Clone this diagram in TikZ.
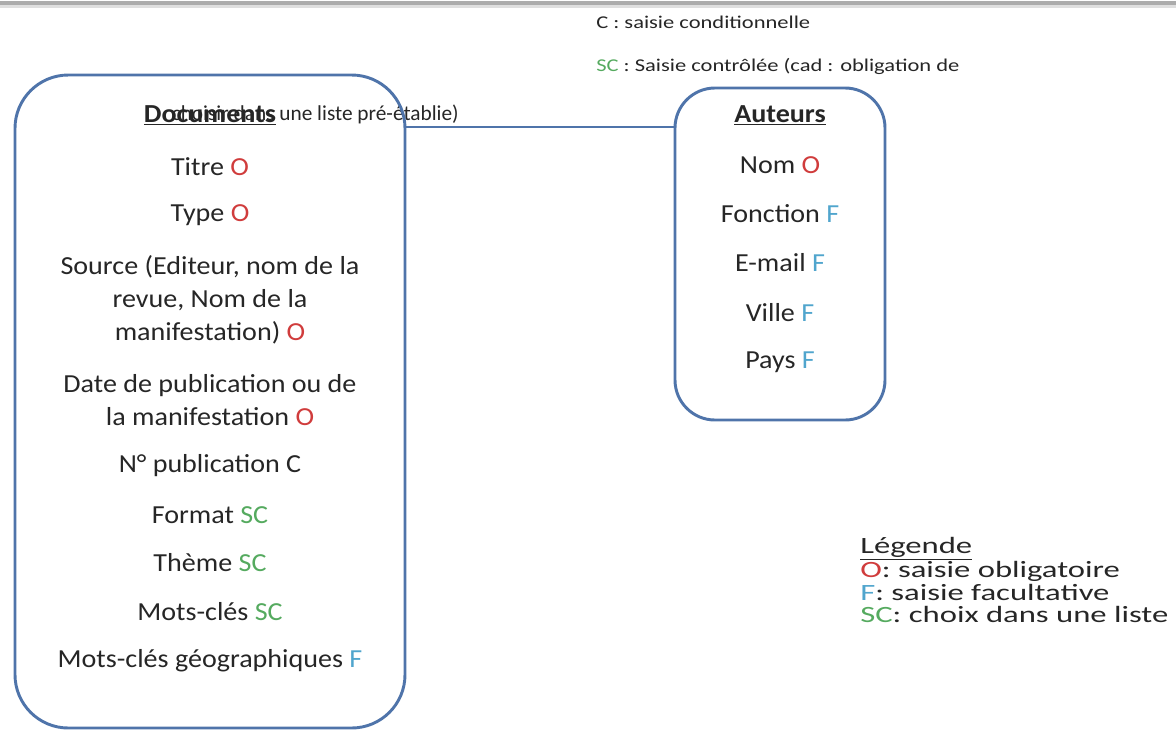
\documentclass[tikz,border=0pt]{standalone}
\usepackage{fontspec}
\setmainfont{Carlito}
\newfontfamily\boxfont[FakeStretch=1.08]{Carlito}
\newfontfamily\notefont[FakeStretch=1.25]{Carlito}
\newfontfamily\legendfont[FakeStretch=1.4]{Carlito}
\usepackage{xcolor}
\usetikzlibrary{positioning}

\definecolor{boxblue}{RGB}{79,116,170}
\definecolor{ink}{RGB}{38,38,38}
\definecolor{tagred}{RGB}{208,60,60}
\definecolor{tagblue}{RGB}{80,165,205}
\definecolor{taggreen}{RGB}{85,170,95}

\newcommand{\tagO}{\textcolor{tagred}{O}}
\newcommand{\tagF}{\textcolor{tagblue}{F}}
\newcommand{\tagSC}{\textcolor{taggreen}{SC}}

\begin{document}
\begin{tikzpicture}[
    x=0.75pt, y=-0.75pt,
    entity/.style={
        rectangle, draw=boxblue, line width=2.2pt
    },
    field/.style={
        font=\boxfont\fontsize{19.5}{24.75}\selectfont,
        text=ink, align=center, inner sep=0pt
    },
    head/.style={field, font=\boxfont\bfseries\fontsize{19.5}{24.75}\selectfont},
    note/.style={
        font=\notefont\fontsize{13.5}{16}\selectfont,
        text=ink, inner sep=0pt, anchor=west
    },
    legend/.style={
        font=\legendfont\fontsize{17.5}{16.9}\selectfont,
        text=ink, align=left, inner sep=0pt, anchor=west
    },
    link/.style={draw=boxblue, line width=2.2pt},
]
\useasboundingbox (0,0) rectangle (1176,732);

% Page edge at the top
\draw[gray!25, line width=3pt] (0,6) -- (1176,6);
\draw[gray!65, line width=2.5pt] (0,3) -- (1176,3);

% Notes at the top
\node[note] (noteC) at (596,22) {C : saisie conditionnelle};
\node[note] (noteSC) at (596,66) {\tagSC{} : Saisie contrôlée (cad : obligation de};
\node[note, anchor=east, font=\fontsize{16}{18}\selectfont] (noteSCb) at (459,114)
    {choisir dans une liste pré-établie)};

% Entity boxes
\node[entity, minimum width=292.5pt, minimum height=489.75pt,
      rounded corners=40pt] (docs) at (210,401.5) {};
\node[entity, minimum width=157.5pt, minimum height=249pt,
      rounded corners=30pt] (auteurs) at (780,254) {};

% Documents fields
\node[head] (hdrDocs) at (210,115) {\underline{Documents}};
\node[field] (titre) at (210,167) {Titre \tagO};
\node[field] (type) at (210,215) {Type \tagO};
\node[field] (source) at (210,300) {Source (Editeur, nom de la\\revue, Nom de la\\manifestation) \tagO};
\node[field] (date) at (210,400) {Date de publication ou de\\la manifestation \tagO};
\node[field] (numero) at (210,466) {N° publication C};
\node[field] (format) at (210,515) {Format \tagSC};
\node[field] (theme) at (210,563) {Thème \tagSC};
\node[field] (motscles) at (210,612) {Mots-clés \tagSC};
\node[field] (motsgeo) at (210,661) {Mots-clés géographiques \tagF};

% Auteurs fields
\node[head] (hdrAut) at (780,115) {\underline{Auteurs}};
\node[field] (nom) at (780,165) {Nom \tagO};
\node[field] (fonction) at (780,214) {Fonction \tagF};
\node[field] (email) at (780,263) {E-mail \tagF};
\node[field] (ville) at (780,313) {Ville \tagF};
\node[field] (pays) at (780,362) {Pays \tagF};

% Link between the two boxes
\coordinate (linkY) at (0,127);
\draw[link] (docs.east |- linkY) -- (auteurs.west |- linkY);

% Legend
\node[legend] (legende) at (860,580) {\underline{Légende}\\
    \tagO: saisie obligatoire\\
    \tagF: saisie facultative\\
    \tagSC: choix dans une liste};

\end{tikzpicture}
\end{document}
